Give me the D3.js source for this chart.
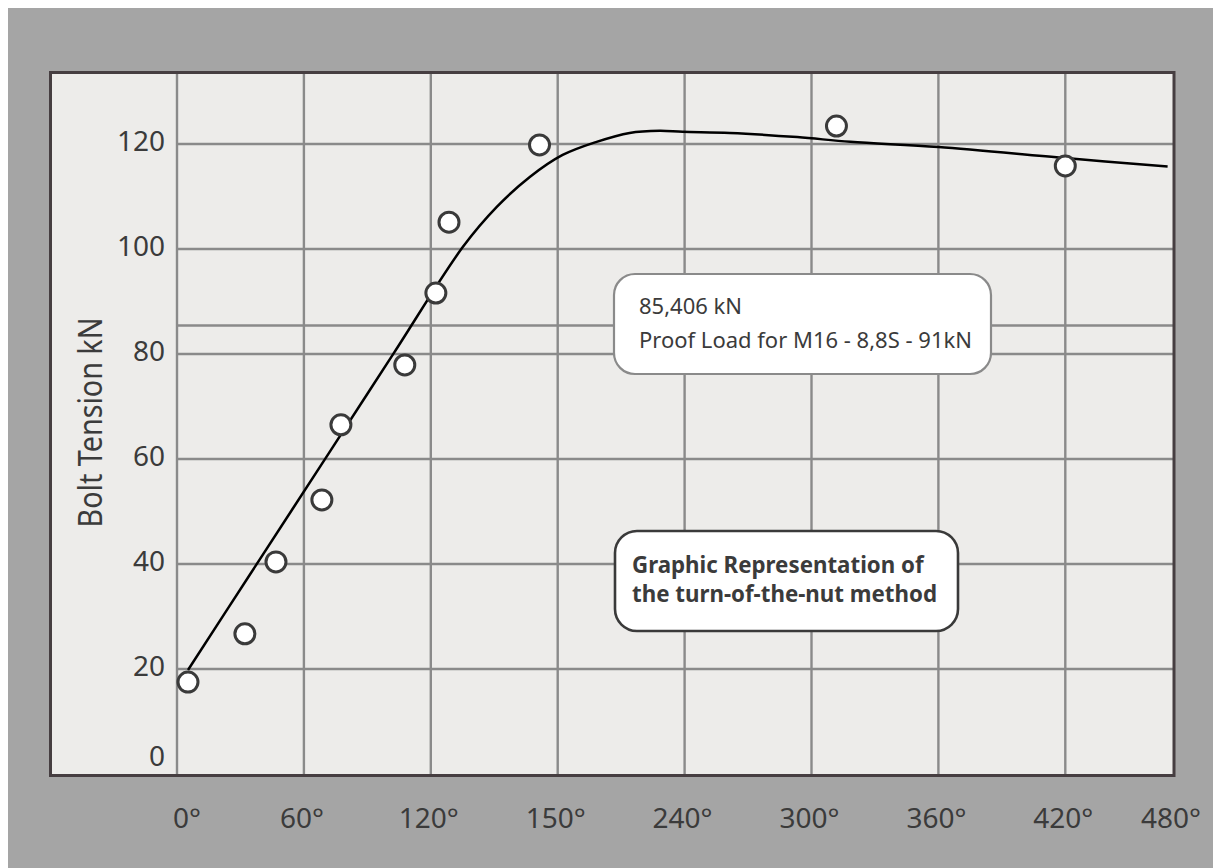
<!DOCTYPE html>
<html>
<head>
<meta charset="utf-8">
<script src="https://cdn.jsdelivr.net/npm/d3@7"></script>
<style>
  html, body { margin: 0; padding: 0; background: #ffffff; }
  svg { display: block; }
  text { font-family: "Noto Sans", "Open Sans", sans-serif; fill: #3b3b3b; }
</style>
</head>
<body>
<script>
// ---- Data ----
const xTickLabels = [0, 60, 120, 150, 240, 300, 360, 420, 480];   // degrees of turn
const yTickValues = [0, 20, 40, 60, 80, 100, 120];                 // kN
const proofLoadLine = 85.406;                                      // kN reference line

// measured points (turn angle in degrees, tension in kN)
const pointDeg = [5.2, 32.1, 46.8, 68.5, 77.5, 107.7, 121.2, 124.3, 145.7, 311.8, 420];
const pointKN  = [17.5, 26.7, 40.4, 52.2, 66.5, 77.9, 91.6, 105.1, 119.8, 123.4, 115.8];

// fitted curve
const curveDeg = [5.2, 34.5, 70.2, 102.5, 127.6, 135.6, 143.4, 153.5, 177.6, 201.0, 222.3, 238.6, 261.4, 293.3, 318.4, 360, 420, 477];
const curveKN  = [19.8, 38.0, 60.1, 80.15, 100.4, 108.0, 113.7, 117.9, 120.4, 122.1, 122.5, 122.3, 122.1, 121.3, 120.4, 119.4, 117.3, 115.7];

const yTitle = "Bolt Tension kN";
const noteLines = ["85,406 kN", "Proof Load for M16 - 8,8S - 91kN"];
const titleLines = ["Graphic Representation of", "the turn-of-the-nut method"];

// ---- Layout ----
const W = 1213, H = 868;
const panel = { left: 50.5, top: 72.5, right: 1174, bottom: 775.5 };
const firstGrid = 177, gridStep = 126.9;

const svg = d3.select("body").append("svg").attr("width", W).attr("height", H);

svg.append("rect").attr("x", 0).attr("y", 0).attr("width", W).attr("height", H).attr("fill", "#ffffff");
svg.append("rect").attr("x", 8).attr("y", 8).attr("width", W - 8).attr("height", H - 8).attr("fill", "#a5a5a5");
svg.append("rect")
  .attr("x", panel.left).attr("y", panel.top)
  .attr("width", panel.right - panel.left).attr("height", panel.bottom - panel.top)
  .attr("fill", "#edecea");

// piecewise x scale (ticks are not evenly spaced in degrees)
const xRange = xTickLabels.map((d, i) => i < xTickLabels.length - 1 ? firstGrid + i * gridStep : panel.right - 1);
const x = d3.scaleLinear().domain(xTickLabels).range(xRange);
const y = d3.scaleLinear().domain([0, 133.7]).range([774, 72]);

// grid
const grid = svg.append("g").attr("stroke", "#8a8a8a").attr("stroke-width", 2.4);
grid.selectAll("line.v").data(xTickLabels.slice(0, -1)).join("line")
  .attr("class", "v")
  .attr("x1", d => x(d)).attr("x2", d => x(d))
  .attr("y1", panel.top).attr("y2", panel.bottom);
grid.selectAll("line.h").data(yTickValues.filter(v => v > 0).concat([proofLoadLine])).join("line")
  .attr("class", "h")
  .attr("x1", x(0)).attr("x2", panel.right)
  .attr("y1", d => y(d)).attr("y2", d => y(d));

// panel border
svg.append("rect")
  .attr("x", panel.left).attr("y", panel.top)
  .attr("width", panel.right - panel.left).attr("height", panel.bottom - panel.top)
  .attr("fill", "none").attr("stroke", "#463e41").attr("stroke-width", 3);

// y tick labels
svg.append("g").selectAll("text").data(yTickValues).join("text")
  .attr("x", 165)
  .attr("y", d => Math.min(y(d) - 4, y(0) - 19))
  .attr("text-anchor", "end")
  .attr("dominant-baseline", "central")
  .attr("font-size", 28)
  .text(d => d);

// x tick labels
svg.append("g").selectAll("text").data(xTickLabels).join("text")
  .attr("x", (d, i) => x(d) + (i === 0 ? 10 : -2))
  .attr("y", 828)
  .attr("text-anchor", "middle")
  .attr("font-size", 28)
  .text(d => d + "°");

// y axis title (slightly condensed to mimic the original typeface)
svg.append("text")
  .attr("transform", "translate(102,422.5) rotate(-90) scale(0.87,1)")
  .attr("text-anchor", "middle")
  .attr("font-size", 33)
  .text(yTitle);

// curve
const curvePts = curveDeg.map((d, i) => [x(d), y(curveKN[i])]);
svg.append("path")
  .attr("d", d3.line().curve(d3.curveCatmullRom.alpha(0.5))(curvePts))
  .attr("fill", "none").attr("stroke", "#000").attr("stroke-width", 2.5);

// points
svg.append("g").selectAll("circle").data(pointDeg).join("circle")
  .attr("cx", d => x(d))
  .attr("cy", (d, i) => y(pointKN[i]))
  .attr("r", 10)
  .attr("fill", "#ffffff").attr("stroke", "#3a3a3a").attr("stroke-width", 3);

// note box
svg.append("rect")
  .attr("x", 614).attr("y", 274).attr("width", 377).attr("height", 100).attr("rx", 21)
  .attr("fill", "#ffffff").attr("stroke", "#8a8a8a").attr("stroke-width", 2.2);
svg.append("g").selectAll("text").data(noteLines).join("text")
  .attr("x", 639).attr("y", (d, i) => 314 + i * 34)
  .attr("font-size", 22)
  .text(d => d);

// title box
svg.append("rect")
  .attr("x", 615).attr("y", 531).attr("width", 343).attr("height", 100).attr("rx", 22)
  .attr("fill", "#ffffff").attr("stroke", "#3a3a3a").attr("stroke-width", 2.6);
svg.append("g").selectAll("text").data(titleLines).join("text")
  .attr("x", 632).attr("y", (d, i) => 573 + i * 29)
  .attr("font-size", 22.3).attr("font-weight", "bold")
  .text(d => d);
</script>
</body>
</html>
